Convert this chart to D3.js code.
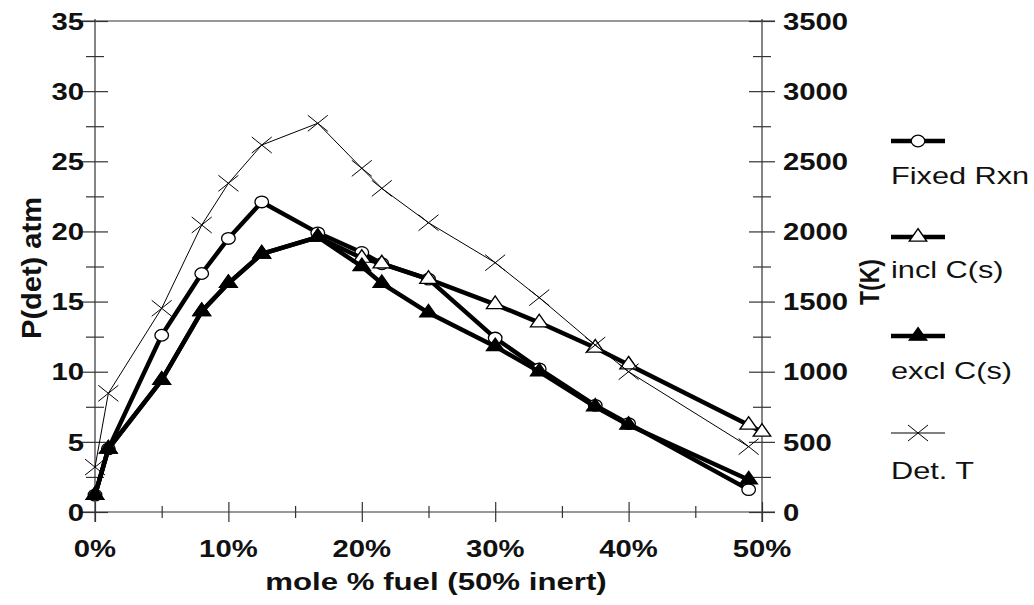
<!DOCTYPE html>
<html><head><meta charset="utf-8">
<script src="https://cdn.jsdelivr.net/npm/d3@7"></script>
<style>
body{margin:0;background:#fff}
svg{display:block}
text{font-family:"Liberation Sans",Arial,Helvetica,sans-serif;fill:#111}
</style>
</head><body>
<svg id="chart" width="1034" height="605"></svg>
<script>
// ---- data (mole % fuel, P(det) atm / T(K)) ----
const fuelFixed = [0, 1, 5, 8, 10, 12.5, 16.7, 20, 21.5, 25, 30, 33.3, 37.5, 40, 49];
const pFixed    = [1.2, 4.5, 12.6, 17.0, 19.5, 22.1, 19.9, 18.5, 17.7, 16.6, 12.4, 10.2, 7.6, 6.3, 1.6];

const fuelIncl  = [0, 1, 5, 8, 10, 12.5, 16.7, 20, 21.5, 25, 30, 33.3, 37.5, 40, 49, 50];
const pIncl     = [1.2, 4.5, 9.4, 14.3, 16.3, 18.4, 19.6, 18.1, 17.7, 16.6, 14.8, 13.5, 11.7, 10.5, 6.2, 5.7];

const fuelExcl  = [0, 1, 5, 8, 10, 12.5, 16.7, 20, 21.5, 25, 30, 33.3, 37.5, 40, 49];
const pExcl     = [1.2, 4.5, 9.4, 14.3, 16.3, 18.4, 19.6, 17.5, 16.3, 14.2, 11.8, 10.0, 7.5, 6.2, 2.3];

const fuelDetT  = [0, 1, 5, 8, 10, 12.5, 16.7, 20, 21.5, 25, 30, 33.3, 37.5, 40, 49];
const tDet      = [320, 846, 1452, 2046, 2343, 2616, 2771, 2450, 2307, 2062, 1777, 1528, 1190, 1000, 466];

const xTickValues = [0, 10, 20, 30, 40, 50];
const xTickLabels = ["0%", "10%", "20%", "30%", "40%", "50%"];
const leftTicks   = [0, 5, 10, 15, 20, 25, 30, 35];
const rightTicks  = [0, 500, 1000, 1500, 2000, 2500, 3000, 3500];
const legendNames = ["Fixed Rxn", "incl C(s)", "excl C(s)", "Det. T"];

// ---- layout ----
const svg = d3.select("#chart");
const X0 = 95, X1 = 762, Y0 = 512, Y1 = 21;
const x  = d3.scaleLinear().domain([0, 50]).range([X0, X1]);
const yL = d3.scaleLinear().domain([0, 35]).range([Y0, Y1]);
const yR = d3.scaleLinear().domain([0, 3500]).range([Y0, Y1]);
const axisColor = "#333";
const SX = 1.22; // horizontal glyph stretch of the original

function htext(g, tx, ty, str, opt) {
  return g.append("text")
    .attr("transform", `translate(${tx},${ty}) scale(${opt.sx || SX},1)`)
    .attr("text-anchor", opt.anchor || "start")
    .attr("dy", opt.dy || null)
    .attr("font-weight", opt.bold ? "bold" : "normal")
    .attr("font-size", opt.size)
    .text(str);
}

// top frame line
svg.append("line").attr("x1", X0 - 13).attr("x2", X1 + 13).attr("y1", Y1).attr("y2", Y1)
  .attr("stroke", axisColor).attr("stroke-width", 1.2);

function styleAxis(g) {
  g.select(".domain").remove();
  g.selectAll("line").attr("stroke", axisColor).attr("stroke-width", 1.2);
  g.selectAll("text").remove();
}

// left axis
const gl = svg.append("g").attr("transform", `translate(${X0},0)`);
gl.append("line").attr("y1", Y1 - 2).attr("y2", Y0 + 10).attr("stroke", axisColor).attr("stroke-width", 1.2);
const glMaj = gl.append("g").call(d3.axisLeft(yL).tickValues(leftTicks).tickSize(13));
styleAxis(glMaj); glMaj.selectAll("line").attr("x1", 13);
const glMin = gl.append("g").call(d3.axisLeft(yL).tickValues(d3.range(2.5, 35, 5)).tickSize(9));
styleAxis(glMin); glMin.selectAll("line").attr("x1", 9);

// right axis
const gr = svg.append("g").attr("transform", `translate(${X1},0)`);
gr.append("line").attr("y1", Y1 - 2).attr("y2", Y0 + 10).attr("stroke", axisColor).attr("stroke-width", 1.2);
const grMaj = gr.append("g").call(d3.axisRight(yR).tickValues(rightTicks).tickSize(13));
styleAxis(grMaj); grMaj.selectAll("line").attr("x1", -13);
const grMin = gr.append("g").call(d3.axisRight(yR).tickValues(d3.range(250, 3500, 500)).tickSize(9));
styleAxis(grMin); grMin.selectAll("line").attr("x1", -9);

// bottom axis
const gb = svg.append("g").attr("transform", `translate(0,${Y0})`);
gb.append("line").attr("x1", X0 - 13).attr("x2", X1 + 13).attr("stroke", axisColor).attr("stroke-width", 1.2);
const gbMaj = gb.append("g").call(d3.axisBottom(x).tickValues(xTickValues).tickSize(10));
styleAxis(gbMaj); gbMaj.selectAll("line").attr("y1", -10);
const gbMin = gb.append("g").call(d3.axisBottom(x).tickValues([5, 15, 25, 35, 45]).tickSize(6));
styleAxis(gbMin); gbMin.selectAll("line").attr("y1", -6);

// tick labels
const tickFont = 24;
const tl = svg.append("g");
leftTicks.forEach(d => htext(tl, 84, yL(d), d, {anchor: "end", dy: "0.36em", bold: true, size: tickFont}));
rightTicks.forEach(d => htext(tl, 783, yR(d), d, {anchor: "start", dy: "0.36em", bold: true, size: tickFont}));
xTickValues.forEach((d, i) => htext(tl, x(d), 557, xTickLabels[i], {anchor: "middle", bold: true, size: tickFont}));

// axis titles
htext(svg, 436, 590, "mole % fuel (50% inert)", {anchor: "middle", bold: true, size: 24, sx: 1.3});
svg.append("text").attr("transform", "translate(41,268) rotate(-90) scale(1,1.1)").attr("text-anchor", "middle")
  .attr("font-weight", "bold").attr("font-size", 25)
  .attr("textLength", 142).attr("lengthAdjust", "spacingAndGlyphs").text("P(det) atm");
svg.append("text").attr("transform", "translate(879,282) rotate(-90) scale(1,1.2)").attr("text-anchor", "middle")
  .attr("font-weight", "bold").attr("font-size", 23).text("T(K)");

// ---- series ----
const pts = (xs, ys) => xs.map((v, i) => [v, ys[i]]);
const lineL = d3.line().x(d => x(d[0])).y(d => yL(d[1]));
const lineR = d3.line().x(d => x(d[0])).y(d => yR(d[1]));
const triPath = d3.symbol().type(d3.symbolTriangle).size(100)();
const triT = "scale(1.15,0.95)";

function crossPath(w, h) { return `M${-w},${-h}L${w},${h}M${-w},${h}L${w},${-h}`; }

const sFixed = pts(fuelFixed, pFixed), sIncl = pts(fuelIncl, pIncl),
      sExcl = pts(fuelExcl, pExcl), sDet = pts(fuelDetT, tDet);
const LW = 4.4;

// Fixed Rxn
svg.append("path").attr("d", lineL(sFixed)).attr("fill", "none").attr("stroke", "#000").attr("stroke-width", LW).attr("stroke-linejoin", "round");
svg.append("g").selectAll("ellipse").data(sFixed).join("ellipse")
  .attr("cx", d => x(d[0])).attr("cy", d => yL(d[1])).attr("rx", 6.8).attr("ry", 5.8)
  .attr("fill", "#fff").attr("stroke", "#000").attr("stroke-width", 1.3);

// incl C(s)
svg.append("path").attr("d", lineL(sIncl)).attr("fill", "none").attr("stroke", "#000").attr("stroke-width", LW).attr("stroke-linejoin", "round");
svg.append("g").selectAll("path").data(sIncl).join("path")
  .attr("transform", d => `translate(${x(d[0])},${yL(d[1])}) ${triT}`).attr("d", triPath)
  .attr("fill", "#fff").attr("stroke", "#000").attr("stroke-width", 1.3);

// excl C(s)
svg.append("path").attr("d", lineL(sExcl)).attr("fill", "none").attr("stroke", "#000").attr("stroke-width", LW).attr("stroke-linejoin", "round");
svg.append("g").selectAll("path").data(sExcl).join("path")
  .attr("transform", d => `translate(${x(d[0])},${yL(d[1])}) ${triT}`).attr("d", triPath)
  .attr("fill", "#000").attr("stroke", "#000").attr("stroke-width", 1.3);

// Det. T
svg.append("path").attr("d", lineR(sDet)).attr("fill", "none").attr("stroke", "#000").attr("stroke-width", 1);
svg.append("g").selectAll("path").data(sDet).join("path")
  .attr("transform", d => `translate(${x(d[0])},${yR(d[1])})`).attr("d", crossPath(10, 8))
  .attr("fill", "none").attr("stroke", "#000").attr("stroke-width", 1);

// ---- legend ----
const legY = [141, 237, 336, 433];
const legTextY = [184, 278, 379, 479];
const lg = svg.append("g");
legendNames.forEach((name, i) => {
  const y = legY[i];
  lg.append("line").attr("x1", 891).attr("x2", 945).attr("y1", y).attr("y2", y)
    .attr("stroke", "#000").attr("stroke-width", i === 3 ? 1 : LW);
  if (i === 0) lg.append("ellipse").attr("cx", 918).attr("cy", y).attr("rx", 6.8).attr("ry", 5.8).attr("fill", "#fff").attr("stroke", "#000").attr("stroke-width", 1.3);
  if (i === 1) lg.append("path").attr("transform", `translate(918,${y}) ${triT}`).attr("d", triPath).attr("fill", "#fff").attr("stroke", "#000").attr("stroke-width", 1.3);
  if (i === 2) lg.append("path").attr("transform", `translate(918,${y}) ${triT}`).attr("d", triPath).attr("fill", "#000").attr("stroke", "#000").attr("stroke-width", 1.3);
  if (i === 3) lg.append("path").attr("transform", `translate(918,${y})`).attr("d", crossPath(10, 8)).attr("fill", "none").attr("stroke", "#000").attr("stroke-width", 1);
  htext(lg, 891, legTextY[i], name, {size: 24, sx: 1.28});
});
</script>
</body></html>
